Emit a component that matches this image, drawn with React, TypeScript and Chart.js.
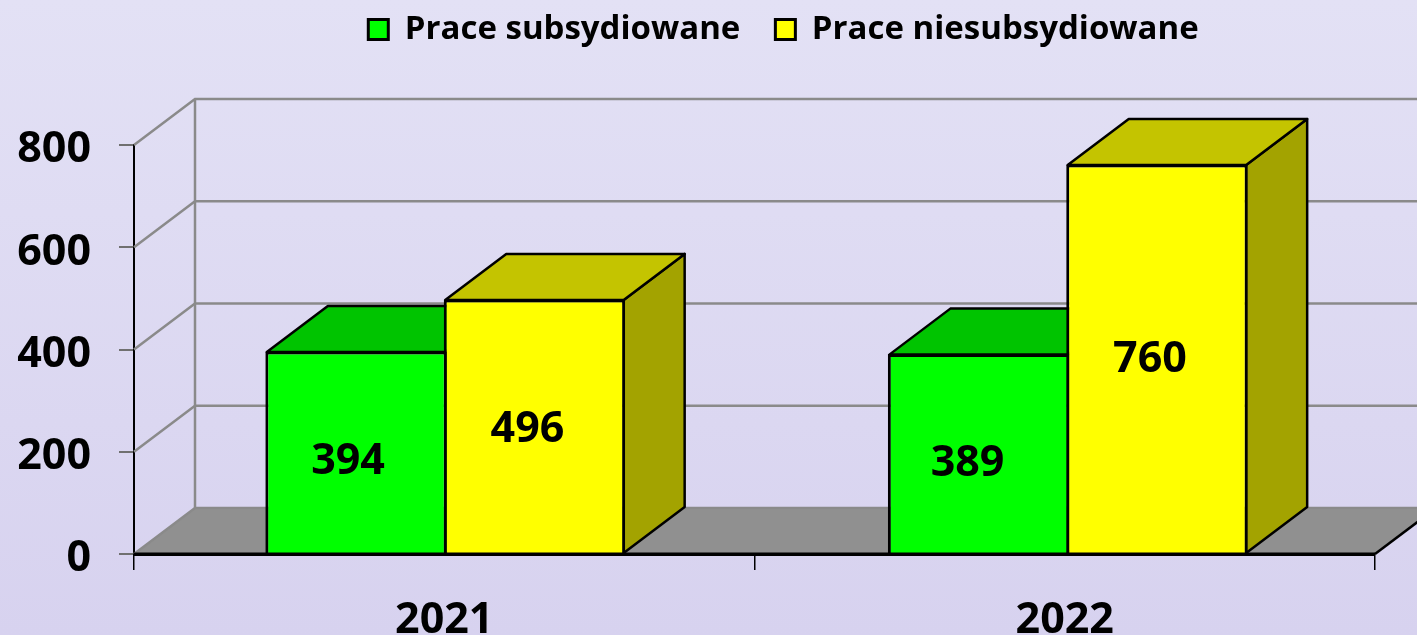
import React, { useEffect, useRef } from "react";
import { Chart, registerables } from "chart.js";

Chart.register(...registerables);

const categories = ["2021", "2022"];
const seriesNames = ["Prace subsydiowane", "Prace niesubsydiowane"];
const subsidized = [394, 389];
const unsubsidized = [496, 760];
const yTicks = [0, 200, 400, 600, 800];

const FONT = '"Open Sans", sans-serif';
const DX = 61;
const DY = -46;
const BORDER = 3;
const frontColors = ["#00ff00", "#ffff00"];
const topColors = ["#00c400", "#c4c400"];
const sideColors = ["#009e00", "#a3a300"];
const groupShift = [1, 3];
const labelShiftX = [[-8, -11], [-7, -7]];
const labelShiftY = [[9, 10], [4, 1]];

const depthPlugin = {
  id: "depth3d",
  beforeLayout(chart: any) {
    const l = chart.legend;
    if (l && !l.__patched) {
      const f = l.fit.bind(l);
      l.fit = () => {
        f();
        l.height = 145;
      };
      l.__patched = true;
    }
  },
  afterLayout(chart: any) {
    const l = chart.legend;
    if (l) {
      l.left += 96;
      l.right += 96;
      l.top = -22;
    }
  },
  afterDatasetsUpdate(chart: any) {
    [0, 1].forEach((ds) => {
      chart.getDatasetMeta(ds).data.forEach((bar: any, i: number) => {
        bar.x += groupShift[i];
        bar.y -= 1;
        bar.height += 1;
      });
    });
  },
  beforeDatasetsDraw(chart: any) {
    const { ctx, scales, chartArea } = chart;
    const y = scales.y;
    const { left, right } = chartArea;
    const y0 = y.getPixelForValue(0);
    const yMax = y.getPixelForValue(800);
    ctx.save();
    ctx.fillStyle = "#909090";
    ctx.beginPath();
    ctx.moveTo(left, y0);
    ctx.lineTo(left + DX, y0 + DY);
    ctx.lineTo(right + DX, y0 + DY);
    ctx.lineTo(right, y0);
    ctx.closePath();
    ctx.fill();
    ctx.strokeStyle = "#8a8a8a";
    ctx.lineWidth = 2.5;
    yTicks.forEach((v) => {
      const py = y.getPixelForValue(v);
      ctx.beginPath();
      ctx.moveTo(left, py);
      ctx.lineTo(left + DX, py + DY);
      ctx.lineTo(right + DX, py + DY);
      ctx.stroke();
    });
    ctx.beginPath();
    ctx.moveTo(left + DX, yMax + DY);
    ctx.lineTo(left + DX, y0 + DY);
    ctx.stroke();
    ctx.strokeStyle = "#000";
    ctx.lineWidth = 2.5;
    ctx.beginPath();
    ctx.moveTo(right, y0);
    ctx.lineTo(right + DX, y0 + DY);
    ctx.stroke();
    ctx.lineWidth = 2.5;
    ctx.lineJoin = "round";
    [0, 1].forEach((ds) => {
      chart.getDatasetMeta(ds).data.forEach((bar: any) => {
        const w = (bar.width - BORDER) / 2;
        const x1 = bar.x - w;
        const x2 = bar.x + w;
        const t = bar.y + BORDER / 2 - 1;
        const b = bar.base;
        ctx.strokeStyle = "#000";
        ctx.fillStyle = sideColors[ds];
        ctx.beginPath();
        ctx.moveTo(x2, t);
        ctx.lineTo(x2 + DX, t + DY);
        ctx.lineTo(x2 + DX, b + DY);
        ctx.lineTo(x2, b);
        ctx.closePath();
        ctx.fill();
        ctx.stroke();
        ctx.fillStyle = topColors[ds];
        ctx.beginPath();
        ctx.moveTo(x1, t);
        ctx.lineTo(x1 + DX, t + DY);
        ctx.lineTo(x2 + DX, t + DY);
        ctx.lineTo(x2, t);
        ctx.closePath();
        ctx.fill();
        ctx.stroke();
      });
    });
    ctx.restore();
  },
  afterDatasetsDraw(chart: any) {
    const { ctx, scales, chartArea } = chart;
    ctx.save();
    const y0 = scales.y.getPixelForValue(0);
    ctx.strokeStyle = "#000";
    ctx.lineWidth = 3;
    ctx.beginPath();
    ctx.moveTo(chartArea.left, y0);
    ctx.lineTo(chartArea.right, y0);
    ctx.stroke();
    ctx.fillStyle = "#000";
    ctx.font = `bold 43px ${FONT}`;
    ctx.textAlign = "center";
    ctx.textBaseline = "middle";
    [0, 1].forEach((ds) => {
      chart.getDatasetMeta(ds).data.forEach((bar: any, i: number) => {
        const value = chart.data.datasets[ds].data[i];
        ctx.fillText(String(value), bar.x + labelShiftX[ds][i], (bar.y + bar.base) / 2 + labelShiftY[ds][i]);
      });
    });
    ctx.restore();
  },
};

export default function App() {
  const ref = useRef<HTMLCanvasElement>(null);
  useEffect(() => {
    document.body.style.margin = "0";
    const chart = new Chart(ref.current as HTMLCanvasElement, {
      type: "bar",
      data: {
        labels: categories,
        datasets: [
          {
            label: seriesNames[0],
            data: subsidized,
            backgroundColor: frontColors[0],
            borderColor: "#000",
            borderWidth: BORDER,
            borderSkipped: "bottom",
          },
          {
            label: seriesNames[1],
            data: unsubsidized,
            backgroundColor: frontColors[1],
            borderColor: "#000",
            borderWidth: BORDER,
            borderSkipped: "bottom",
          },
        ],
      },
      options: {
        animation: false,
        responsive: false,
        layout: { padding: { right: 42 } },
        datasets: { bar: { categoryPercentage: 0.575, barPercentage: 1.017 } },
        plugins: {
          tooltip: { enabled: false },
          legend: {
            position: "top",
            labels: {
              boxWidth: 20,
              boxHeight: 20,
              padding: 35,
              color: "#000",
              font: { family: FONT, size: 33, weight: "bold" },
            },
          },
        },
        scales: {
          x: {
            afterFit(s: any) {
              s.height = 81;
            },
            grid: {
              offset: true,
              drawOnChartArea: false,
              drawTicks: true,
              tickLength: 16,
              color: "#000",
              lineWidth: 1.5,
            },
            border: { color: "#000", width: 3 },
            ticks: {
              color: "#000",
              padding: 25,
              font: { family: FONT, size: 43, weight: "bold" },
            },
          },
          y: {
            min: 0,
            max: 800,
            afterFit(s: any) {
              s.width = 134;
            },
            grid: {
              drawOnChartArea: false,
              drawTicks: true,
              tickLength: 15,
              color: "#707070",
              lineWidth: 2,
            },
            border: { color: "#000", width: 2 },
            ticks: {
              stepSize: 200,
              color: "#000",
              padding: 28,
              labelOffset: 5,
              font: { family: FONT, size: 43, weight: "bold" },
            },
          },
        },
      } as any,
      plugins: [depthPlugin],
    });
    return () => chart.destroy();
  }, []);
  return (
    <div
      style={{
        width: 1417,
        height: 635,
        background: "linear-gradient(180deg, #e3e1f5 0%, #d7d2ef 100%)",
      }}
    >
      <canvas ref={ref} width={1417} height={635} style={{ display: "block" }} />
    </div>
  );
}
